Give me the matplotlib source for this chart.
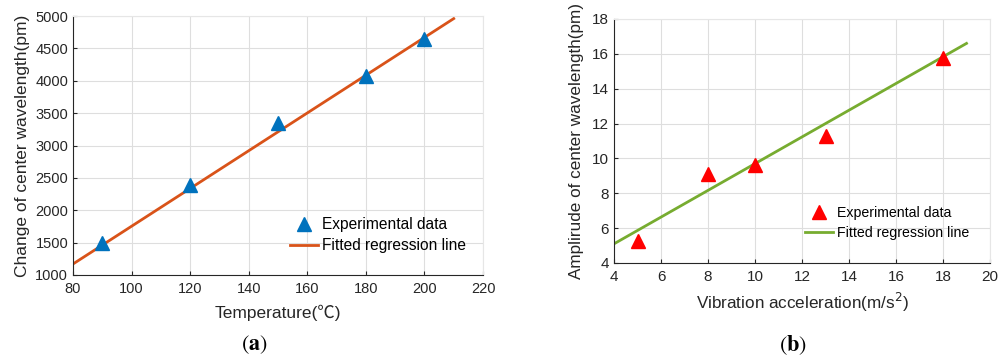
import numpy as np
import matplotlib.pyplot as plt

plt.rcParams['font.family'] = ['Liberation Sans', 'DejaVu Sans']

# (a) temperature response
temp = [90, 120, 150, 180, 200]
shift = [1490, 2390, 3340, 4080, 4650]
fit_a_x = [80, 210]
fit_a_y = [1170, 4960]

# (b) vibration response
accel = [5, 8, 10, 13, 18]
amp = [5.25, 9.1, 9.65, 11.3, 15.75]
fit_b_x = [4, 19]
fit_b_y = [5.1, 16.6]

W, H = 999, 358
fig = plt.figure(figsize=(W / 100, H / 100), dpi=100)
ax1 = fig.add_axes([73 / W, 1 - 275 / H, (483 - 73) / W, (275 - 16) / H])
ax2 = fig.add_axes([614 / W, 1 - 263 / H, (990 - 614) / W, (263 - 19) / H])


def style(ax, fs):
    ax.grid(True, color='#dedede', linewidth=0.8)
    ax.set_axisbelow(True)
    ax.tick_params(direction='in', length=3, labelsize=fs, colors='#262626')
    ax.tick_params(axis='x', pad=5)
    for s in ['top', 'right']:
        ax.spines[s].set_color('#e6e6e6')
    for s in ['left', 'bottom']:
        ax.spines[s].set_color('#262626')
        ax.spines[s].set_linewidth(0.8)


# panel a
ax1.plot(temp, shift, '^', color='#0072BD', markersize=10, label='Experimental data', zorder=3)
ax1.plot(fit_a_x, fit_a_y, '-', color='#D95319', linewidth=2, label='Fitted regression line')
ax1.set_xlim(80, 220)
ax1.set_ylim(1000, 5000)
ax1.set_xticks(np.arange(80, 221, 20))
ax1.set_yticks(np.arange(1000, 5001, 500))
ax1.set_xlabel('Temperature(℃)', fontsize=12.5, color='#262626', labelpad=6,
               family=['Liberation Sans', 'Noto Sans CJK SC'])
ax1.set_ylabel('Change of center wavelength(pm)', fontsize=12.5, color='#262626', labelpad=4)
style(ax1, 10.5)
ax1.legend(loc='upper left', bbox_to_anchor=(290 / W, 1 - 217 / H), bbox_transform=fig.transFigure,
           frameon=False, fontsize=11.2, handlelength=1.8, handletextpad=0.26,
           borderaxespad=0, borderpad=0, labelspacing=0.4)

# panel b
ax2.plot(accel, amp, '^', color='#FF0000', markersize=10, label='Experimental data', zorder=3)
ax2.plot(fit_b_x, fit_b_y, '-', color='#77AC30', linewidth=2, label='Fitted regression line')
ax2.set_xlim(4, 20)
ax2.set_ylim(4, 18)
ax2.set_xticks(np.arange(4, 21, 2))
ax2.set_yticks(np.arange(4, 19, 2))
ax2.set_xlabel('Vibration acceleration(m/s$^2$)', fontsize=12.3, color='#262626', labelpad=5)
ax2.set_ylabel('Amplirude of center wavelength(pm)', fontsize=12.3, color='#262626', labelpad=6)
style(ax2, 11)
ax2.legend(loc='upper left', bbox_to_anchor=(805 / W, 1 - 206 / H), bbox_transform=fig.transFigure,
           frameon=False, fontsize=10.2, handlelength=2.0, handletextpad=0.28,
           borderaxespad=0, borderpad=0, labelspacing=0.4)

fig.text(254 / W, 1 - 345 / H, r'$(\mathbf{a})$', ha='center', va='center', fontsize=16,
         math_fontfamily='stix')
fig.text(793 / W, 1 - 345 / H, r'$(\mathbf{b})$', ha='center', va='center', fontsize=16,
         math_fontfamily='stix')

fig.savefig('out.png', dpi=100)
